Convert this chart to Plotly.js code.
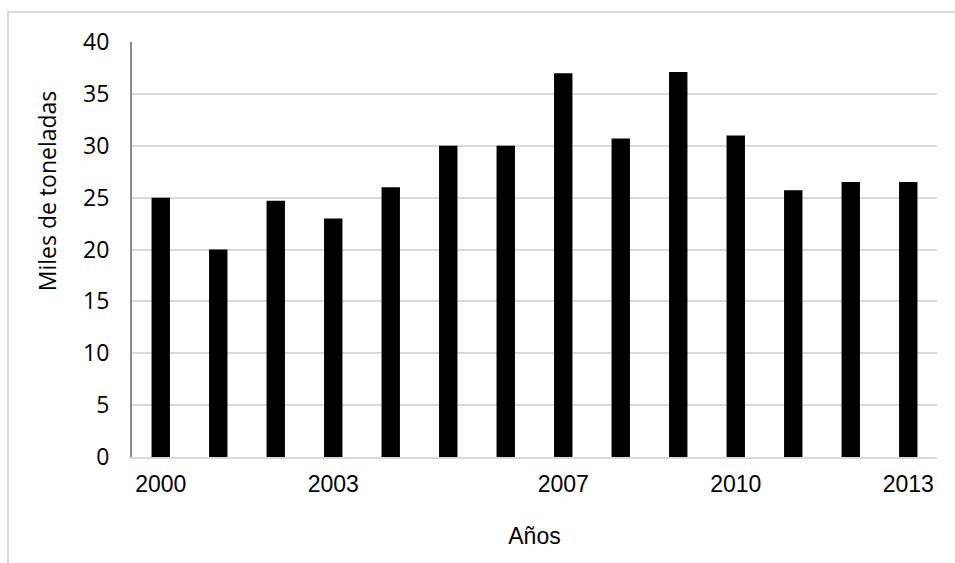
<!DOCTYPE html>
<html>
<head>
<meta charset="utf-8">
<script src="https://cdn.plot.ly/plotly-3.0.1.min.js"></script>
<style>
  html, body { margin: 0; padding: 0; background: #ffffff; overflow: hidden; }
  #wrap { position: relative; width: 955px; height: 563px; }
  #chart { position: absolute; left: 0; top: 0; width: 955px; height: 563px; }
  #frame { position: absolute; left: 7px; top: 11px; width: 1000px; height: 700px;
           border-top: 2px solid #d9d9d9; border-left: 2px solid #d9d9d9; pointer-events: none; }
</style>
</head>
<body>
<div id="wrap">
  <div id="chart"></div>
  <div id="frame"></div>
</div>
<script>
const years = ['2000','2001','2002','2003','2004','2005','2006','2007','2008','2009','2010','2011','2012','2013'];
const values = [25, 20, 24.7, 23, 26, 30, 30, 37, 30.7, 37.1, 31, 25.7, 26.5, 26.5];
const shownYearTicks = ['2000','2003','2007','2010','2013'];
const yTicks = [0, 5, 10, 15, 20, 25, 30, 35, 40];
const yTitle = 'Miles de toneladas';
const xTitle = 'Años';

const data = [{
  type: 'bar',
  x: years,
  y: values,
  marker: { color: '#000000', line: { width: 0 } },
  hoverinfo: 'x+y'
}];

const layout = {
  width: 955,
  height: 563,
  margin: { l: 132, r: 18, t: 42, b: 106 },
  paper_bgcolor: '#ffffff',
  plot_bgcolor: '#ffffff',
  showlegend: false,
  bargap: 0.68,
  xaxis: {
    type: 'category',
    tickmode: 'array',
    tickvals: shownYearTicks,
    ticktext: shownYearTicks,
    ticks: 'outside',
    ticklen: 5,
    tickcolor: 'rgba(0,0,0,0)',
    showgrid: false,
    showline: true,
    linecolor: '#d9d9d9',
    linewidth: 2,
    tickfont: { family: 'Liberation Sans, Arial, sans-serif', size: 23, color: '#000000' },
    title: { text: xTitle, standoff: 32, font: { family: 'Liberation Sans, Arial, sans-serif', size: 23, color: '#000000' } }
  },
  yaxis: {
    range: [0, 40],
    tickmode: 'array',
    tickvals: yTicks,
    ticks: 'outside',
    ticklen: 16,
    tickcolor: 'rgba(0,0,0,0)',
    showgrid: true,
    gridcolor: '#d9d9d9',
    gridwidth: 2,
    zeroline: false,
    showline: true,
    linecolor: '#8c8c8c',
    linewidth: 2,
    tickfont: { family: 'Open Sans, Noto Sans, sans-serif', size: 23, color: '#000000' }
  },
  annotations: [{
    text: yTitle,
    xref: 'paper', yref: 'paper',
    x: -0.106, y: 0.642,
    xanchor: 'center', yanchor: 'middle',
    textangle: -90,
    showarrow: false,
    font: { family: 'Open Sans, Noto Sans, sans-serif', size: 23, color: '#000000' }
  }]
};

Plotly.newPlot('chart', data, layout, { displayModeBar: false, staticPlot: true });
</script>
</body>
</html>
